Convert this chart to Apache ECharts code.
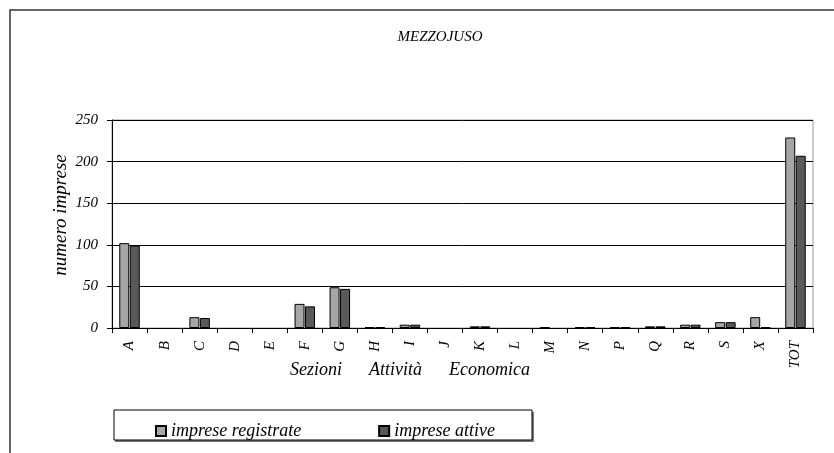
<!DOCTYPE html>
<html>
<head>
<meta charset="utf-8">
<script src="https://cdn.jsdelivr.net/npm/echarts@6/dist/echarts.min.js"></script>
<style>
html,body{margin:0;padding:0;background:#fff;}
#c{width:834px;height:453px;}
</style>
</head>
<body>
<div id="c"></div>
<script>
var categories = ['A','B','C','D','E','F','G','H','I','J','K','L','M','N','P','Q','R','S','X','TOT'];
var registrate = [102,0,13,0,0,29,49,1,4,0,2,0,1,1,1,2,4,7,13,229];
var attive     = [99,0,12,0,0,26,47,1,4,0,2,0,0,1,1,2,4,7,1,207];
var yTicks = [0,50,100,150,200,250];
var seriesNames = ['imprese registrate','imprese attive'];
var chartTitle = 'MEZZOJUSO';
var xTitle = 'Sezioni      Attività      Economica';
var yTitle = 'numero imprese';

function hideZero(arr){ return arr.map(function(v){ return v === 0 ? null : v; }); }

var FONT = 'Liberation Serif';
var chart = echarts.init(document.getElementById('c'));
chart.setOption({
  backgroundColor: '#fff',
  animation: false,
  graphic: [
    {type: 'rect', shape: {x: 10, y: 10, width: 900, height: 600}, style: {fill: 'none', stroke: '#333', lineWidth: 1.5}, z: 100},
    {type: 'rect', shape: {x: 115, y: 412, width: 419, height: 30}, style: {fill: '#777', stroke: 'none'}, z: 0},
    {type: 'rect', shape: {x: 114, y: 410, width: 418, height: 30}, style: {fill: '#fff', stroke: '#000', lineWidth: 1}, z: 1},
    {type: 'text', x: 440, y: 37, z: 10,
      style: {text: chartTitle, x: 0, y: 0, textAlign: 'center', textVerticalAlign: 'middle', fill: '#000',
        font: 'italic 15px "Liberation Serif"'}},
    {type: 'text', x: 290, y: 370, z: 10,
      style: {text: xTitle, x: 0, y: 0, textAlign: 'left', textVerticalAlign: 'middle', fill: '#000',
        font: 'italic 18px "Liberation Serif"'}},
    {type: 'text', x: 61, y: 215, rotation: Math.PI / 2, z: 10,
      style: {text: yTitle, x: 0, y: 0, textAlign: 'center', textVerticalAlign: 'middle', fill: '#000',
        font: 'italic 19px "Liberation Serif"'}}
  ],
  legend: {
    left: 150, top: 417,
    itemWidth: 10, itemHeight: 10, itemGap: 77,
    icon: 'rect',
    textStyle: {fontFamily: FONT, fontStyle: 'italic', fontSize: 18, color: '#000'},
    data: seriesNames,
    z: 10
  },
  grid: {left: 112, right: 21, top: 120, bottom: 125, show: true, borderColor: '#999', borderWidth: 1},
  xAxis: {
    type: 'category',
    data: categories,
    axisLine: {lineStyle: {color: '#000', width: 1}},
    axisTick: {show: true, alignWithLabel: false, length: 5, lineStyle: {color: '#000'}},
    axisLabel: {rotate: 90, margin: 13, fontFamily: FONT, fontStyle: 'italic', fontSize: 15, color: '#000', interval: 0},
    splitLine: {show: false}
  },
  yAxis: {
    type: 'value',
    min: 0, max: 250, interval: 50,
    axisLine: {show: true, lineStyle: {color: '#000', width: 1}},
    axisTick: {show: true, length: 5, lineStyle: {color: '#000'}},
    axisLabel: {fontFamily: FONT, fontStyle: 'italic', fontSize: 15, color: '#000', margin: 14,
      formatter: function(v){ return yTicks.indexOf(v) >= 0 ? String(v) : ''; }},
    splitLine: {show: true, lineStyle: {color: '#000', width: 1}}
  },
  series: [{
    name: seriesNames[0],
    type: 'bar',
    data: hideZero(registrate),
    barWidth: 10,
    barGap: '5%',
    itemStyle: {color: '#a6a6a6', borderColor: '#000', borderWidth: 1}
  },{
    name: seriesNames[1],
    type: 'bar',
    data: hideZero(attive),
    barWidth: 10,
    itemStyle: {color: '#595959', borderColor: '#000', borderWidth: 1}
  }]
});
</script>
</body>
</html>
